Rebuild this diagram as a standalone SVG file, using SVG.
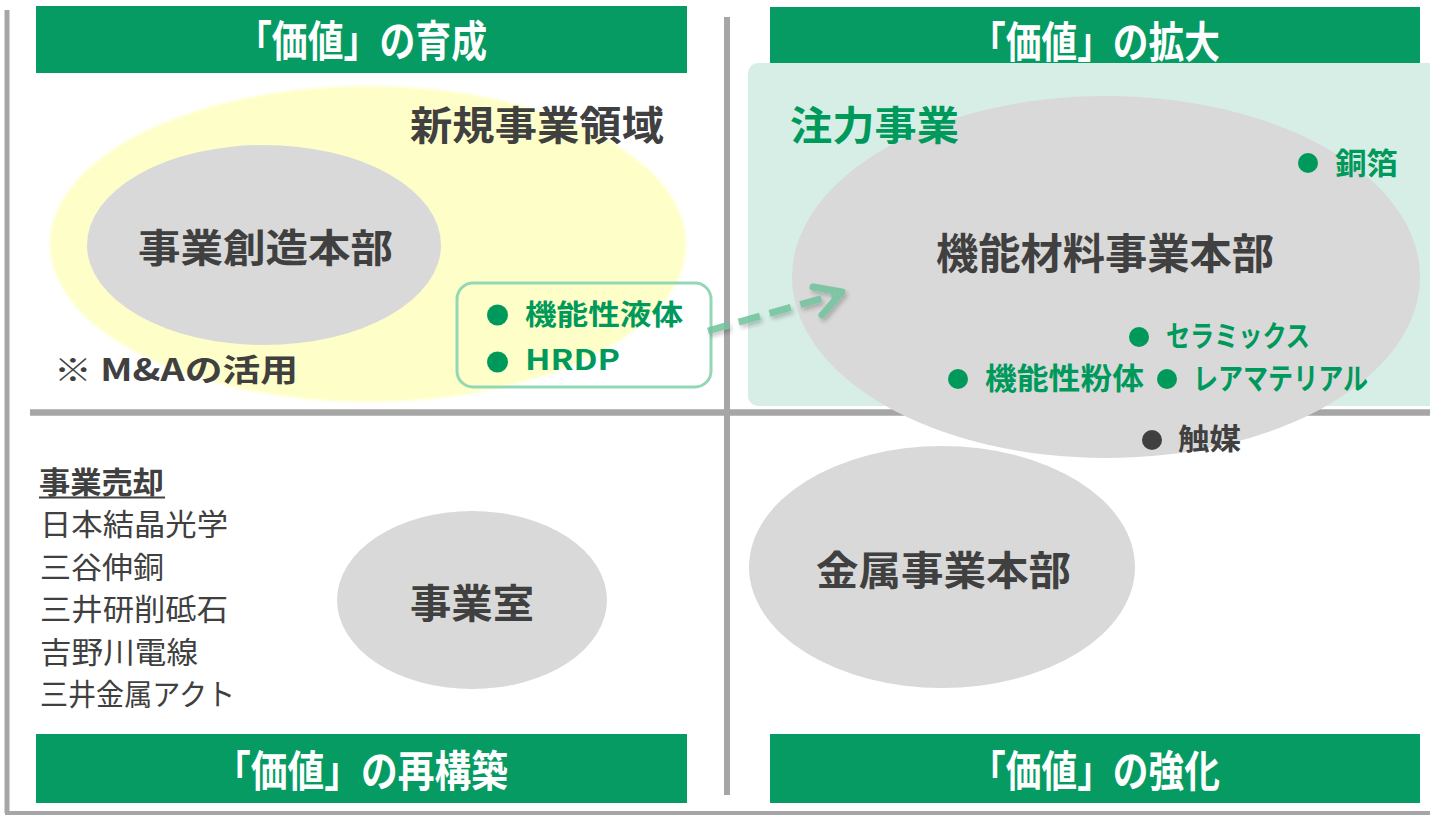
<svg xmlns="http://www.w3.org/2000/svg" width="1430" height="815" viewBox="0 0 1430 815">
<defs>
<style>
.hdr{fill:#069b63}
.ht{font-family:"Noto Sans CJK JP","Noto Sans",sans-serif;font-weight:bold;fill:#ffffff;font-size:43px}
.b{font-family:"Noto Sans CJK JP","Noto Sans",sans-serif;font-weight:bold}
.r{font-family:"Noto Sans CJK JP","Noto Sans",sans-serif;font-weight:normal}
.dk{fill:#404040}
.gr{fill:#00995c}
.gray{fill:#d9d9d9}
.ln{stroke:#a6a6a6;fill:none}
</style>
<filter id="sh" x="-20%" y="-50%" width="140%" height="200%">
<feDropShadow dx="2" dy="3" stdDeviation="2" flood-color="#000000" flood-opacity="0.25"/>
</filter>
<filter id="soft" x="-5%" y="-5%" width="110%" height="110%">
<feGaussianBlur stdDeviation="1.5"/>
</filter>
</defs>
<rect width="1430" height="815" fill="#ffffff"/>

<g id="frame">
<line class="ln" x1="7" y1="10" x2="7" y2="813" stroke-width="5"/>
<line class="ln" x1="5" y1="813" x2="1430" y2="813" stroke-width="4"/>
<line class="ln" x1="30" y1="412.5" x2="1430" y2="412.5" stroke-width="6.5"/>
<line class="ln" x1="727" y1="17" x2="727" y2="795" stroke-width="6"/>
</g>

<g id="headers">
<rect class="hdr" x="36" y="6" width="651" height="67"/>
<text class="ht" x="236" y="57" textLength="251" lengthAdjust="spacingAndGlyphs">「価値」の育成</text>
<rect class="hdr" x="770" y="7" width="650" height="68"/>
<text class="ht" x="970" y="58" textLength="250" lengthAdjust="spacingAndGlyphs">「価値」の拡大</text>
<rect class="hdr" x="36" y="734" width="651" height="69"/>
<text class="ht" x="214" y="787" textLength="294" lengthAdjust="spacingAndGlyphs">「価値」の再構築</text>
<rect class="hdr" x="770" y="734" width="650" height="69"/>
<text class="ht" x="970" y="787" textLength="250" lengthAdjust="spacingAndGlyphs">「価値」の強化</text>
</g>

<g id="new-business-area">
<ellipse cx="368" cy="244" rx="318" ry="158" fill="#fefec8" filter="url(#soft)"/>
<text class="b dk" x="410" y="140" font-size="40" textLength="254" lengthAdjust="spacingAndGlyphs">新規事業領域</text>
<text class="b dk" x="54" y="381" font-size="31" textLength="244" lengthAdjust="spacingAndGlyphs">※ M&amp;Aの活用</text>
</g>

<g id="jigyo-sozo">
<ellipse class="gray" cx="264" cy="245" rx="177" ry="100"/>
<text class="b dk" x="138" y="262" font-size="39" textLength="255" lengthAdjust="spacingAndGlyphs">事業創造本部</text>
</g>

<g id="new-items">
<rect x="457" y="283" width="254" height="104" rx="16" fill="none" stroke="#94d7b5" stroke-width="3"/>
<circle class="gr" cx="497.5" cy="315" r="10.5"/>
<text class="b gr" x="525" y="325" font-size="28" textLength="158" lengthAdjust="spacingAndGlyphs">機能性液体</text>
<circle class="gr" cx="497.5" cy="362" r="10.5"/>
<text class="b gr" x="525" y="370" font-size="28" textLength="95" lengthAdjust="spacingAndGlyphs">HRDP</text>
</g>

<g id="focus-area">
<rect x="748" y="63" width="700" height="343" rx="10" fill="#d6eee5"/>
</g>

<g id="kinou-zairyo">
<ellipse class="gray" cx="1106" cy="277" rx="314" ry="181"/>
<text class="b gr" x="790" y="140" font-size="40" textLength="169" lengthAdjust="spacingAndGlyphs">注力事業</text>
<text class="b dk" x="936" y="269" font-size="42" textLength="338" lengthAdjust="spacingAndGlyphs">機能材料事業本部</text>
<circle class="gr" cx="1308" cy="163" r="10"/>
<text class="b gr" x="1335" y="174" font-size="30" textLength="63" lengthAdjust="spacingAndGlyphs">銅箔</text>
<circle class="gr" cx="1139" cy="337" r="10"/>
<text class="b gr" x="1166" y="347" font-size="29" textLength="144" lengthAdjust="spacingAndGlyphs">セラミックス</text>
<circle class="gr" cx="958" cy="379" r="10"/>
<text class="b gr" x="985" y="389" font-size="30" textLength="159" lengthAdjust="spacingAndGlyphs">機能性粉体</text>
<circle class="gr" cx="1167" cy="379" r="10"/>
<text class="b gr" x="1193" y="389" font-size="30" textLength="175" lengthAdjust="spacingAndGlyphs">レアマテリアル</text>
<circle cx="1152" cy="440" r="10" fill="#404040"/>
<text class="b dk" x="1178" y="450" font-size="29" textLength="63" lengthAdjust="spacingAndGlyphs">触媒</text>
</g>

<g id="divestment">
<text class="b dk" x="39" y="493" font-size="30" textLength="125" lengthAdjust="spacingAndGlyphs">事業売却</text>
<line x1="39" y1="497.5" x2="165" y2="497.5" stroke="#404040" stroke-width="2"/>
<text class="r dk" x="40" y="535" font-size="30" textLength="188" lengthAdjust="spacingAndGlyphs">日本結晶光学</text>
<text class="r dk" x="40" y="578" font-size="30" textLength="124" lengthAdjust="spacingAndGlyphs">三谷伸銅</text>
<text class="r dk" x="40" y="620" font-size="30" textLength="188" lengthAdjust="spacingAndGlyphs">三井研削砥石</text>
<text class="r dk" x="40" y="663" font-size="30" textLength="158" lengthAdjust="spacingAndGlyphs">吉野川電線</text>
<text class="r dk" x="40" y="705" font-size="30" textLength="195" lengthAdjust="spacingAndGlyphs">三井金属アクト</text>
</g>

<g id="jigyoshitsu">
<ellipse class="gray" cx="472" cy="600" rx="135" ry="89"/>
<text class="b dk" x="410" y="618" font-size="40" textLength="124" lengthAdjust="spacingAndGlyphs">事業室</text>
</g>

<g id="kinzoku">
<ellipse class="gray" cx="942" cy="567" rx="193" ry="121"/>
<text class="b dk" x="816" y="585" font-size="40" textLength="255" lengthAdjust="spacingAndGlyphs">金属事業本部</text>
</g>

<g id="connectors" filter="url(#sh)" opacity="0.85">
<path d="M708 331 L834 295" stroke="#6fc29c" stroke-width="7" stroke-dasharray="22 10" fill="none"/>
<polyline points="813,287 842,292 822,315" stroke="#6fc29c" stroke-width="7" fill="none" stroke-linecap="round" stroke-linejoin="round"/>
</g>
</svg>
